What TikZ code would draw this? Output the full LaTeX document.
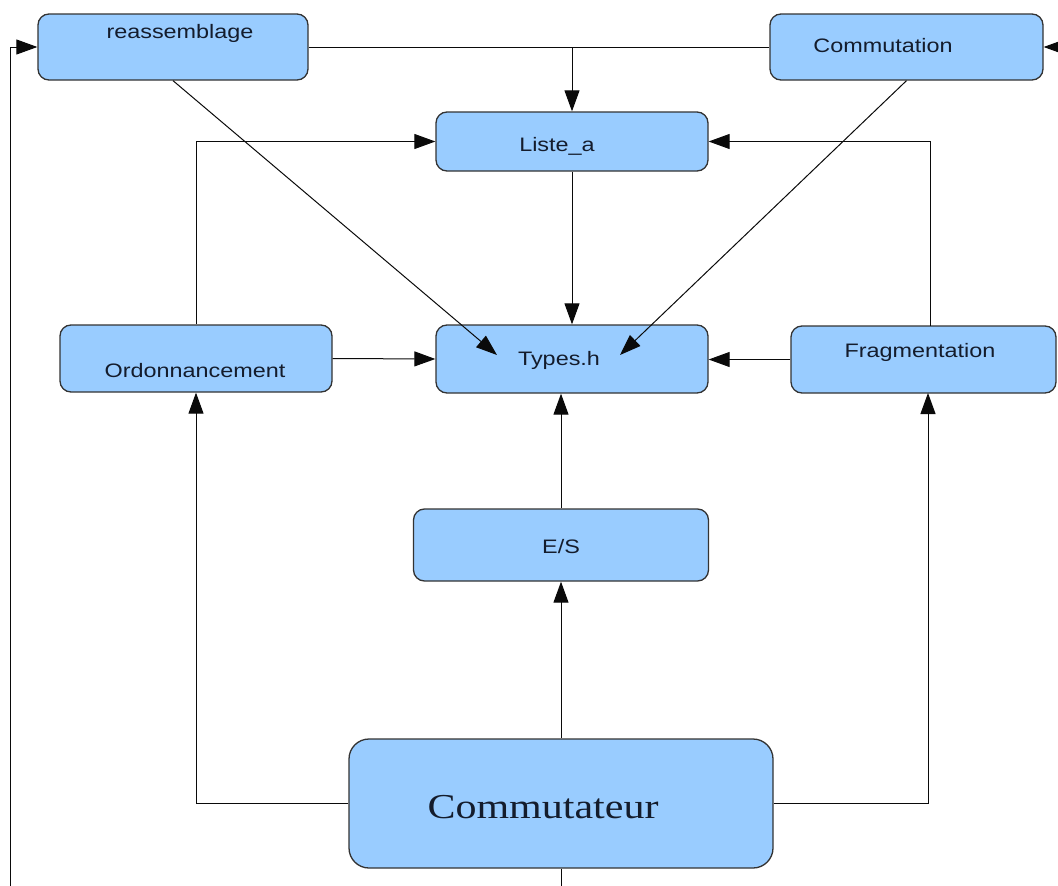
\documentclass[tikz,border=0pt]{standalone}
\usepackage{fontspec}
\newfontfamily\boxsans[FakeStretch=1.2]{Liberation Sans}
\newfontfamily\boxserif[FakeStretch=1.2]{Liberation Serif}
\usetikzlibrary{arrows.meta,calc}
\definecolor{boxfill}{HTML}{99CCFF}
\definecolor{boxline}{HTML}{333333}
\definecolor{txtcol}{HTML}{141C2C}
\definecolor{linecol}{HTML}{0A0A0A}
\tikzset{
  box/.style={draw=boxline, fill=boxfill, line width=1.3pt, rounded corners=11pt, inner sep=0pt},
  lbl/.style={text=txtcol, font=\boxsans\fontsize{19.5}{20}\selectfont, anchor=base, inner sep=0pt},
  biglbl/.style={text=txtcol, font=\boxserif\fontsize{35}{36}\selectfont, anchor=base, inner sep=0pt},
  conn/.style={draw=linecol, line width=1pt},
  arr/.style={conn, -{Triangle[length=21pt,width=15pt]}},
}
\begin{document}
\begin{tikzpicture}[x=1pt,y=-1pt]
\useasboundingbox (0,0) rectangle (1058,886);
% boxes
\node[box, minimum width=270pt, minimum height=66pt] (reas) at (173,47) {};
\node[box, minimum width=273pt, minimum height=66pt] (comm) at (906.5,47) {};
\node[box, minimum width=272pt, minimum height=59pt] (liste) at (572,141.5) {};
\node[box, minimum width=272pt, minimum height=68pt] (types) at (572,359) {};
\node[box, minimum width=272pt, minimum height=67pt] (ordo) at (196,358.5) {};
\node[box, minimum width=265pt, minimum height=67pt] (frag) at (923.5,359.5) {};
\node[box, minimum width=295pt, minimum height=72pt] (es) at (561,545) {};
\node[box, minimum width=424pt, minimum height=129pt, rounded corners=20pt] (cmt) at (561,803.5) {};
% labels
\node[lbl] (reasT) at (180,38) {reassemblage};
\node[lbl] (commT) at (883,52) {Commutation};
\node[lbl] (listeT) at (557,151) {Liste\_a};
\node[lbl] (typesT) at (559,365) {Types.h};
\node[lbl] (ordoT) at (195,377) {Ordonnancement};
\node[lbl] (fragT) at (920,357) {Fragmentation};
\node[lbl] (esT) at (561,553) {E/S};
\node[biglbl] (cmtT) at (543,818) {Commutateur};
% helper coordinates
\coordinate (lb) at (10,886);
\coordinate (rin) at (1058,47);
\coordinate (jn) at (572,47);
\coordinate (tA) at (497,355);
\coordinate (tB) at (620,355);
\coordinate (fup) at (930,326);
\coordinate (fdown) at (928,393);
\coordinate (bot) at (561,886);
% connectors
\draw[arr] (lb) |- (reas.west);
\draw[arr] (rin) -- (comm.east);
\draw[conn] (reas.east) -- (comm.west);
\draw[arr] (jn) -- (liste.north);
\draw[arr] (liste.south) -- (types.north);
\draw[arr] (reas.south) -- (tA);
\draw[arr] (comm.south) -- (tB);
\draw[arr] (ordo.north) |- (liste.west);
\draw[arr] (fup) |- (liste.east);
\draw[arr] (ordo.east) -- (types.west);
\draw[arr] (frag.west) -- (frag.west -| types.east);
\draw[arr] (es.north) -- (es.north |- types.south);
\draw[arr] (cmt.north) -- (cmt.north |- es.south);
\draw[arr] (cmt.west) -| (ordo.south);
\draw[arr] (cmt.east) -| (fdown);
\draw[conn] (cmt.south) -- (bot);
\end{tikzpicture}
\end{document}
